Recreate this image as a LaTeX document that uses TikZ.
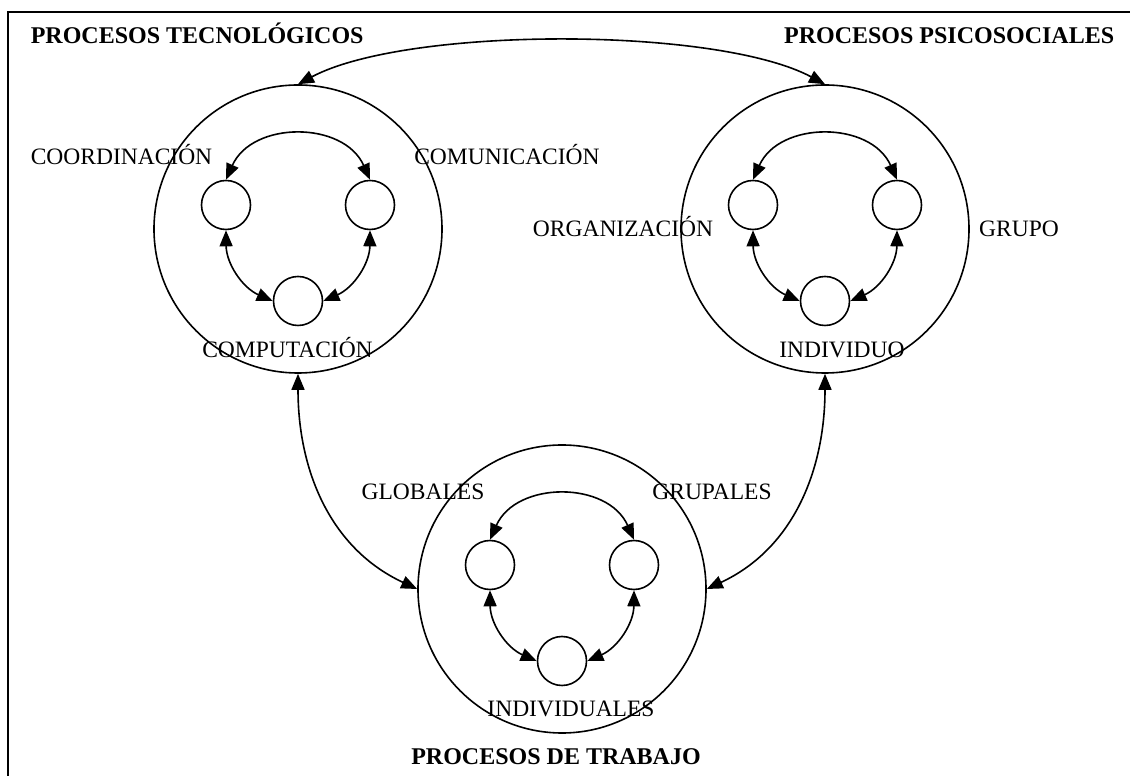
\documentclass[tikz,border=0pt]{standalone}
\usepackage{fontspec}
\setmainfont{Liberation Serif}
\usetikzlibrary{positioning,arrows.meta}

\begin{document}
\begin{tikzpicture}[x=1pt,y=1pt,line width=1.6pt,
    >={Triangle[length=16pt,width=13pt]},
    big/.style={draw,circle,minimum size=288pt,inner sep=0pt},
    small/.style={draw,circle,minimum size=49pt,inner sep=0pt,on grid},
    lbl/.style={font=\fontsize{23.5}{28}\selectfont,inner sep=0pt,anchor=base},
    ttl/.style={font=\fontsize{24}{28}\selectfont\bfseries,inner sep=0pt}]
    \useasboundingbox (0,0) rectangle (1130,776);
    \draw[line width=2.4pt] (1130,764) -- (8,764) -- (8,0);

    \node[big] (tec) at (298,547) {};
    \node[big] (psi) at (825,547) {};
    \node[big] (tra) at (562,187) {};

    \node[small,above left=24pt and 72pt of tec] (tecA) {};
    \node[small,above right=24pt and 72pt of tec] (tecB) {};
    \node[small,below=72pt of tec] (tecC) {};
    \node[small,above left=24pt and 72pt of psi] (psiA) {};
    \node[small,above right=24pt and 72pt of psi] (psiB) {};
    \node[small,below=72pt of psi] (psiC) {};
    \node[small,above left=24pt and 72pt of tra] (traA) {};
    \node[small,above right=24pt and 72pt of tra] (traB) {};
    \node[small,below=72pt of tra] (traC) {};

    \draw[<->] (tecA.north) to[bend left=66,looseness=1.15] (tecB.north);
    \draw[<->] (tecA.south) to[bend right=33] (tecC.west);
    \draw[<->] (tecB.south) to[bend left=33] (tecC.east);
    \draw[<->] (psiA.north) to[bend left=66,looseness=1.15] (psiB.north);
    \draw[<->] (psiA.south) to[bend right=33] (psiC.west);
    \draw[<->] (psiB.south) to[bend left=33] (psiC.east);
    \draw[<->] (traA.north) to[bend left=66,looseness=1.15] (traB.north);
    \draw[<->] (traA.south) to[bend right=33] (traC.west);
    \draw[<->] (traB.south) to[bend left=33] (traC.east);

    \draw[<->] (tec.north) to[bend left=28,looseness=0.6] (psi.north);
    \draw[<->] (tec.south) to[out=-90,in=155] (tra.west);
    \draw[<->] (psi.south) to[out=-90,in=25] (tra.east);

    \node[lbl] (coord) at (121.5,611) {COORDINACIÓN};
    \node[lbl] (comun) at (507,611) {COMUNICACIÓN};
    \node[lbl] (compu) at (287.5,418) {COMPUTACIÓN};
    \node[lbl] (organ) at (623,539) {ORGANIZACIÓN};
    \node[lbl] (grupo) at (1019,539) {GRUPO};
    \node[lbl] (indiv) at (842,418) {INDIVIDUO};
    \node[lbl] (glob) at (423,276) {GLOBALES};
    \node[lbl] (grup) at (712,276) {GRUPALES};
    \node[lbl] (indivs) at (571,59) {INDIVIDUALES};

    \node[ttl,anchor=base west] (ttec) at (30,732) {PROCESOS TECNOLÓGICOS};
    \node[ttl,anchor=base east] (tpsi) at (1115,732) {PROCESOS PSICOSOCIALES};
    \node[ttl,anchor=base] (ttra) at (556,11) {PROCESOS DE TRABAJO};
\end{tikzpicture}
\end{document}
